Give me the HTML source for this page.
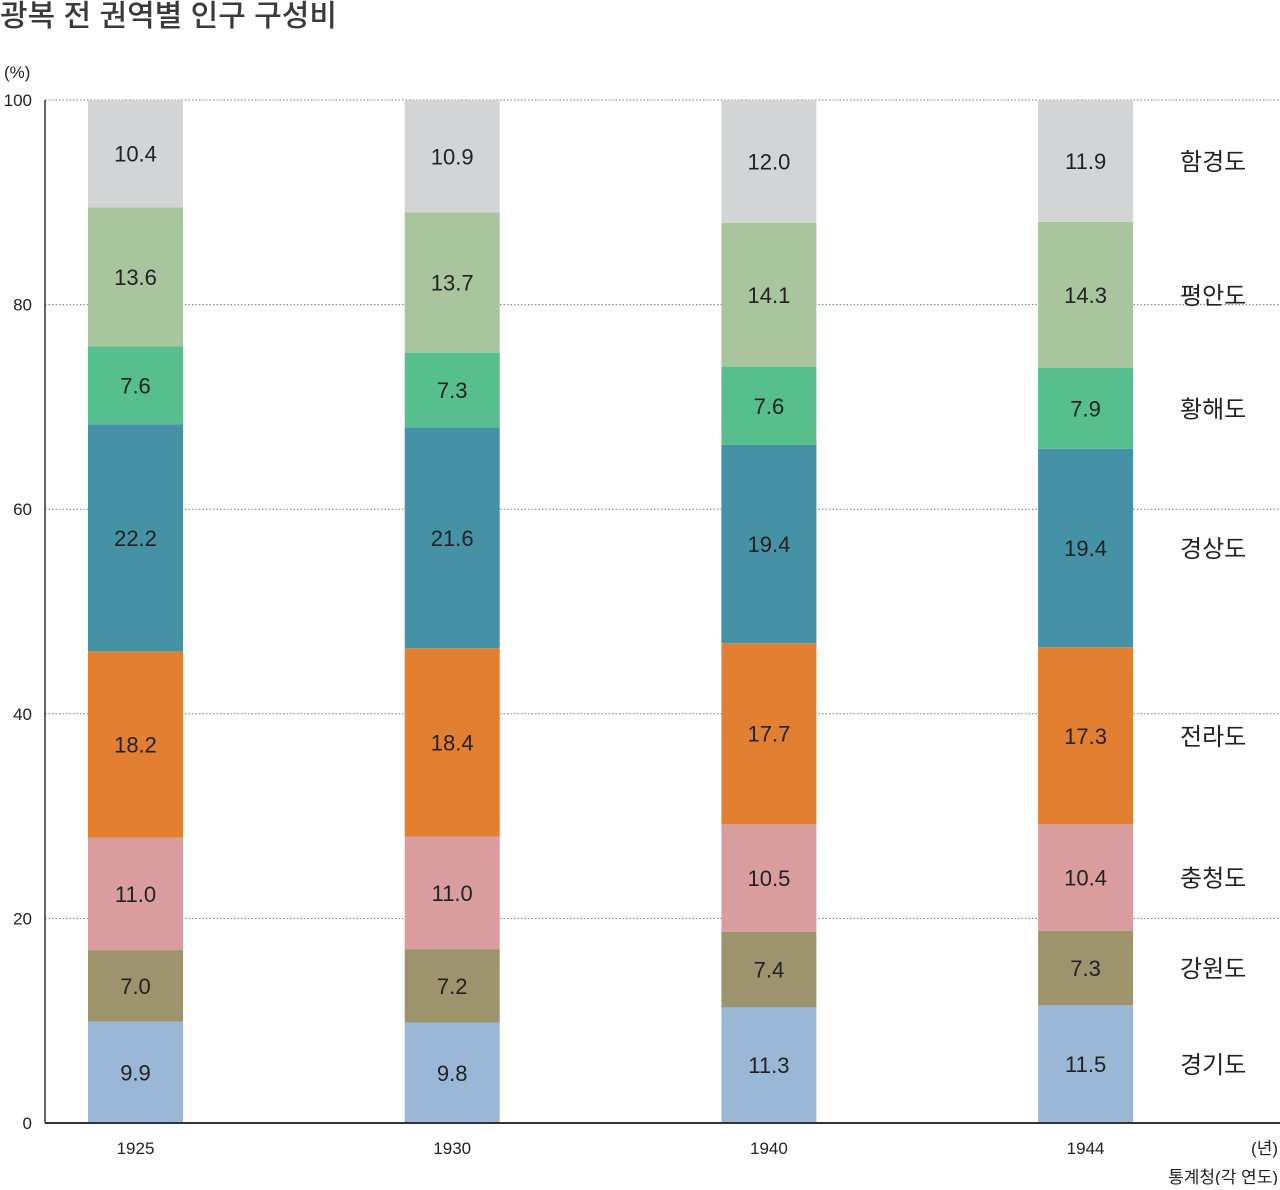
<!DOCTYPE html>
<html><head><meta charset="utf-8">
<style>
body{margin:0;background:#fff;width:1280px;height:1185px;overflow:hidden;font-family:"Liberation Sans","Noto Sans CJK KR",sans-serif;}
svg text{font-family:"Liberation Sans","Noto Sans CJK KR",sans-serif;fill:#222;}
</style></head><body>
<svg id="chart" width="1280" height="1185" xmlns="http://www.w3.org/2000/svg">
<text x="0" y="26" font-size="30" font-weight="500" style="fill:#3a3a3a">광복 전 권역별 인구 구성비</text>
<text x="4" y="78" font-size="17">(%)</text>
<g id="grid"></g><g id="bars"></g><g id="labels"></g>
<text x="1278" y="1154" font-size="17" text-anchor="end">(년)</text>
<text x="1278" y="1183" font-size="17" text-anchor="end">통계청(각 연도)</text>
</svg>
<script>
const years=['1925','1930','1940','1944'];
const regions=['경기도','강원도','충청도','전라도','경상도','황해도','평안도','함경도'];
const v1925=[9.9,7.0,11.0,18.2,22.2,7.6,13.6,10.4];
const v1930=[9.8,7.2,11.0,18.4,21.6,7.3,13.7,10.9];
const v1940=[11.3,7.4,10.5,17.7,19.4,7.6,14.1,12.0];
const v1944=[11.5,7.3,10.4,17.3,19.4,7.9,14.3,11.9];
const yTicks=[0,20,40,60,80,100];
const colors=['#9ab7d5','#9d946e','#d99d9e','#e27f31','#4592a6','#56bf8d','#a9c59e','#d3d4d6'];
const series=[v1925,v1930,v1940,v1944];
const NS='http://www.w3.org/2000/svg';
const y=v=>1123-v*10.23;
const xc=i=>135.5+i*316.7;
const bw=95;
function mk(t,a,p){const e=document.createElementNS(NS,t);for(const k in a)e.setAttribute(k,a[k]);p.appendChild(e);return e;}
const grid=document.getElementById('grid'),bars=document.getElementById('bars'),labels=document.getElementById('labels');
yTicks.forEach(t=>{
  if(t>0){const l=mk('line',{x1:45,x2:1280,y1:y(t),y2:y(t),stroke:'#777','stroke-width':1,'stroke-dasharray':'1.5,2'},grid);
  
  }
  const tx=mk('text',{x:32,y:y(t)+6,'font-size':17,'text-anchor':'end'},grid);tx.textContent=t;
  
  
});
const ax=mk('line',{x1:45,x2:45,y1:y(100),y2:y(0),stroke:'#333','stroke-width':1.5},grid);


series.forEach((vals,i)=>{
  let cum=0;
  vals.forEach((v,j)=>{
    const top=(j===vals.length-1)?100:cum+v;
    const r=mk('rect',{x:xc(i)-bw/2,y:y(top),width:bw,height:y(cum)-y(top),fill:colors[j]},bars);
    
    
    const t=mk('text',{x:xc(i),y:(y(cum)+y(top))/2+8,'font-size':22,'text-anchor':'middle'},labels);
    t.textContent=v.toFixed(1);
    
    
    if(i===series.length-1){
      const lg=mk('text',{x:1180,y:(y(cum)+y(top))/2+9,'font-size':24},labels);
      lg.textContent=regions[j];
      
      
    }
    cum+=v;
  });
  const xl=mk('text',{x:xc(i),y:1154,'font-size':17,'text-anchor':'middle'},labels);
  xl.textContent=years[i];
  
  
});
const bx=mk('line',{x1:45,x2:1280,y1:y(0),y2:y(0),stroke:'#333','stroke-width':2},labels);


</script>
</body></html>
